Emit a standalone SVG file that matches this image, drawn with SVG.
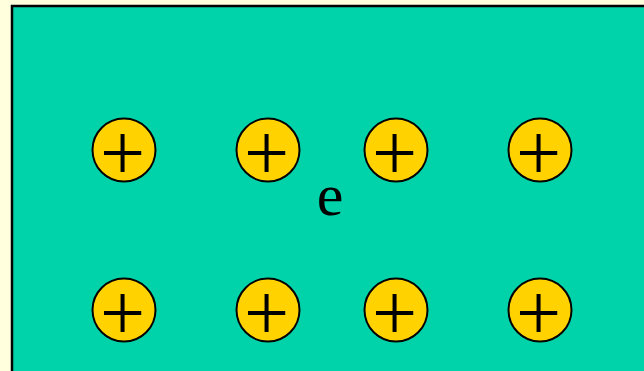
<svg xmlns="http://www.w3.org/2000/svg" width="644" height="371" viewBox="0 0 644 371">
<style>
.ion circle{fill:#FFD200;stroke:#000;stroke-width:2}
.ion text{font-family:"Liberation Serif","Times New Roman",serif;font-size:80px;fill:#000;text-anchor:middle}
.lbl{font-family:"Liberation Serif","Times New Roman",serif;font-size:60px;fill:#000;text-anchor:middle}
</style>
<rect x="0" y="0" width="644" height="371" fill="#FFFFDD"/>
<rect id="metal" x="12" y="6" width="640" height="380" fill="#00D2AA" stroke="#000" stroke-width="2.5"/>
<g id="ion1" class="ion"><circle cx="124" cy="150" r="31.5"/><text x="122.5" y="180">+</text></g>
<g id="ion2" class="ion"><circle cx="268" cy="150" r="31.5"/><text x="266.5" y="180">+</text></g>
<g id="ion3" class="ion"><circle cx="396" cy="150" r="31.5"/><text x="394.5" y="180">+</text></g>
<g id="ion4" class="ion"><circle cx="540" cy="150" r="31.5"/><text x="538.5" y="180">+</text></g>
<g id="ion5" class="ion"><circle cx="124" cy="310" r="31.5"/><text x="122.5" y="340">+</text></g>
<g id="ion6" class="ion"><circle cx="268" cy="310" r="31.5"/><text x="266.5" y="340">+</text></g>
<g id="ion7" class="ion"><circle cx="396" cy="310" r="31.5"/><text x="394.5" y="340">+</text></g>
<g id="ion8" class="ion"><circle cx="540" cy="310" r="31.5"/><text x="538.5" y="340">+</text></g>
<g id="electron"><text class="lbl" x="330" y="215">e</text></g>
</svg>
